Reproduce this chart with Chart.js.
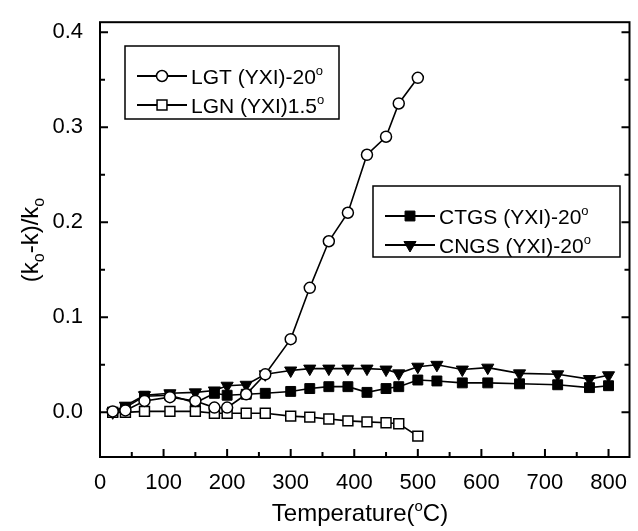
<!DOCTYPE html>
<html>
<head>
<meta charset="utf-8">
<script src="https://cdn.jsdelivr.net/npm/chart.js@4.4.0/dist/chart.umd.min.js"></script>
<style>
  html, body { margin: 0; padding: 0; background: #fff; }
</style>
</head>
<body>
<canvas id="myChart" width="638" height="531"></canvas>
<script>
// Data
const tempsL = [20, 40, 70, 110, 150, 180, 200, 230, 260, 300, 330, 360, 390, 420, 450, 470, 500];
const lgt = [0.001, 0.002, 0.012, 0.016, 0.012, 0.005, 0.005, 0.019, 0.040, 0.077, 0.131, 0.180, 0.210, 0.271, 0.290, 0.325, 0.352];
const lgn = [0.000, 0.000, 0.001, 0.001, 0.001, -0.001, -0.001, -0.001, -0.001, -0.004, -0.005, -0.007, -0.009, -0.010, -0.011, -0.012, -0.025];

const tempsC = [20, 40, 70, 110, 150, 180, 200, 230, 260, 300, 330, 360, 390, 420, 450, 470, 500, 530, 570, 610, 660, 720, 770, 800];
const ctgs = [0.000, 0.005, 0.017, 0.018, 0.010, 0.020, 0.018, 0.019, 0.020, 0.022, 0.025, 0.027, 0.027, 0.021, 0.025, 0.027, 0.034, 0.033, 0.031, 0.031, 0.030, 0.029, 0.026, 0.028];
const cngs = [0.000, 0.007, 0.018, 0.020, 0.021, 0.023, 0.028, 0.029, 0.040, 0.044, 0.046, 0.046, 0.046, 0.046, 0.045, 0.041, 0.048, 0.050, 0.045, 0.047, 0.041, 0.040, 0.035, 0.039];

const xTicks = [0, 100, 200, 300, 400, 500, 600, 700, 800];
const yTicks = [0.0, 0.1, 0.2, 0.3, 0.4];

const FONT = '"Liberation Sans", Arial, Helvetica, sans-serif';

function pts(xs, ys) {
  return xs.map((x, i) => ({ x: x, y: ys[i] }));
}

// draws text pieces with sub/superscripts, returns width
function richWidth(ctx, parts) {
  let w = 0;
  parts.forEach(p => {
    ctx.font = p.s + 'px ' + FONT;
    w += ctx.measureText(p.t).width;
  });
  return w;
}
function drawRich(ctx, parts, x, y) {
  ctx.textAlign = 'left';
  ctx.textBaseline = 'alphabetic';
  parts.forEach(p => {
    ctx.font = p.s + 'px ' + FONT;
    ctx.fillText(p.t, x, y + (p.dy || 0));
    x += ctx.measureText(p.t).width;
  });
}

const labels = [
  [{ t: 'LGT (YXI)-20', s: 21 }, { t: 'o', s: 13, dy: -9 }],
  [{ t: 'LGN (YXI)1.5', s: 21 }, { t: 'o', s: 13, dy: -9 }],
  [{ t: 'CTGS (YXI)-20', s: 21 }, { t: 'o', s: 13, dy: -9 }],
  [{ t: 'CNGS (YXI)-20', s: 21 }, { t: 'o', s: 13, dy: -9 }]
];

const framePlugin = {
  id: 'frame',
  afterDraw(chart) {
    const ctx = chart.ctx;
    const a = chart.chartArea;
    const xs = chart.scales.x, ys = chart.scales.y;
    ctx.save();
    ctx.strokeStyle = '#000';
    ctx.lineWidth = 2;
    ctx.strokeRect(a.left, a.top, a.right - a.left, a.bottom - a.top);

    // inward ticks
    ctx.lineWidth = 2;
    ctx.beginPath();
    for (let v = 0; v <= 800; v += 50) {
      const px = xs.getPixelForValue(v);
      const len = v % 100 === 0 ? 8 : 5;
      ctx.moveTo(px, a.bottom);
      ctx.lineTo(px, a.bottom - len);
    }
    for (let k = 0; k <= 8; k++) {
      const v = k * 0.05;
      const py = ys.getPixelForValue(v);
      const len = k % 2 === 0 ? 8 : 5;
      ctx.moveTo(a.left, py);
      ctx.lineTo(a.left + len, py);
      ctx.moveTo(a.right, py);
      ctx.lineTo(a.right - len, py);
    }
    ctx.stroke();

    // axis titles
    ctx.fillStyle = '#000';
    const xt = [{ t: 'Temperature(', s: 24 }, { t: 'o', s: 15, dy: -10 }, { t: 'C)', s: 24 }];
    drawRich(ctx, xt, 360 - richWidth(ctx, xt) / 2, 521);

    const yt = [{ t: '(k', s: 24 }, { t: 'o', s: 16, dy: 6 }, { t: '-k)/k', s: 24 }, { t: 'o', s: 16, dy: 6 }];
    ctx.translate(38, 240);
    ctx.rotate(-Math.PI / 2);
    drawRich(ctx, yt, -richWidth(ctx, yt) / 2, 0);
    ctx.restore();

    // legend boxes
    const boxes = [
      { x: 125, y: 46, w: 214, h: 73, items: [0, 1] },
      { x: 373, y: 186, w: 247, h: 71, items: [2, 3] }
    ];
    ctx.save();
    boxes.forEach(b => {
      ctx.lineWidth = 1.5;
      ctx.strokeStyle = '#000';
      ctx.strokeRect(b.x, b.y, b.w, b.h);
      b.items.forEach((di, j) => {
        const ds = chart.data.datasets[di];
        const cy = b.y + 30 + j * 29;
        ctx.lineWidth = 1.8;
        ctx.strokeStyle = '#000';
        ctx.beginPath();
        ctx.moveTo(b.x + 12, cy);
        ctx.lineTo(b.x + 62, cy);
        ctx.stroke();
        ctx.fillStyle = ds.pointBackgroundColor;
        ctx.strokeStyle = '#000';
        ctx.lineWidth = ds.pointBorderWidth;
        Chart.helpers.drawPoint(ctx, {
          pointStyle: ds.pointStyle,
          rotation: ds.pointRotation || 0,
          radius: ds.pointRadius,
          borderWidth: ds.pointBorderWidth
        }, b.x + 37, cy);
        ctx.fillStyle = '#000';
        drawRich(ctx, labels[di], b.x + 66, cy + 8);
      });
    });
    ctx.restore();
  }
};

const config = {
  type: 'scatter',
  data: {
    datasets: [
      {
        label: 'LGT (YXI)-20°',
        data: pts(tempsL, lgt),
        showLine: true,
        borderColor: '#000',
        borderWidth: 1.6,
        pointStyle: 'circle',
        pointRadius: 5.5,
        pointBorderWidth: 1.5,
        pointBorderColor: '#000',
        pointBackgroundColor: '#fff',
        order: 0
      },
      {
        label: 'LGN (YXI)1.5°',
        data: pts(tempsL, lgn),
        showLine: true,
        borderColor: '#000',
        borderWidth: 1.6,
        pointStyle: 'rect',
        pointRadius: 7,
        pointBorderWidth: 1.5,
        pointBorderColor: '#000',
        pointBackgroundColor: '#fff',
        order: 1
      },
      {
        label: 'CTGS (YXI)-20°',
        data: pts(tempsC, ctgs),
        showLine: true,
        borderColor: '#000',
        borderWidth: 1.6,
        pointStyle: 'rect',
        pointRadius: 7,
        pointBorderWidth: 1,
        pointBorderColor: '#000',
        pointBackgroundColor: '#000',
        order: 2
      },
      {
        label: 'CNGS (YXI)-20°',
        data: pts(tempsC, cngs),
        showLine: true,
        borderColor: '#000',
        borderWidth: 1.6,
        pointStyle: 'triangle',
        pointRotation: 180,
        pointRadius: 7,
        pointBorderWidth: 1,
        pointBorderColor: '#000',
        pointBackgroundColor: '#000',
        order: 3
      }
    ]
  },
  options: {
    responsive: false,
    animation: false,
    devicePixelRatio: 1,
    layout: { padding: { top: 22, right: 2, left: 0, bottom: 0 } },
    plugins: { legend: { display: false }, tooltip: { enabled: false } },
    scales: {
      x: {
        type: 'linear',
        min: 0,
        max: 833,
        grid: { display: false },
        border: { display: false },
        afterBuildTicks: s => { s.ticks = xTicks.map(v => ({ value: v })); },
        afterFit: s => { s.height = 74; },
        ticks: {
          color: '#000',
          padding: 5,
          maxRotation: 0,
          font: { family: FONT, size: 22 },
          callback: v => String(v)
        }
      },
      y: {
        type: 'linear',
        min: -0.047,
        max: 0.4105,
        grid: { display: false },
        border: { display: false },
        afterBuildTicks: s => { s.ticks = yTicks.map(v => ({ value: v })); },
        afterFit: s => { s.width = 100; },
        ticks: {
          color: '#000',
          padding: 9,
          font: { family: FONT, size: 22 },
          callback: v => v.toFixed(1)
        }
      }
    }
  },
  plugins: [framePlugin]
};

const myChart = new Chart(document.getElementById('myChart'), config);
</script>
</body>
</html>
